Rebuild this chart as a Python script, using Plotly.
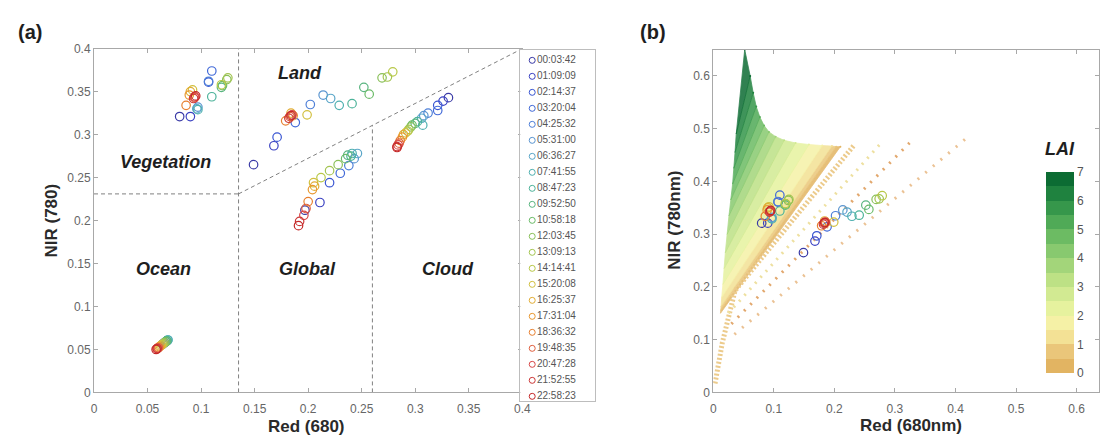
import plotly.graph_objects as go

# ---------------- acquisition times (legend of panel a) ----------------
times = ["00:03:42", "01:09:09", "02:14:37", "03:20:04", "04:25:32", "05:31:00",
         "06:36:27", "07:41:55", "08:47:23", "09:52:50", "10:58:18", "12:03:45",
         "13:09:13", "14:14:41", "15:20:08", "16:25:37", "17:31:04", "18:36:32",
         "19:48:35", "20:47:28", "21:52:55", "22:58:23"]

time_colors = ["#3a3aa6", "#3b42c2", "#3a56d2", "#4169d8", "#4f80d8", "#5a95d0",
               "#5aa6c8", "#4fb0b0", "#4db39a", "#5ab580", "#6bbb68", "#8ac05a",
               "#a3c450", "#b8c848", "#d2c040", "#e2ad35", "#e99830", "#e88030",
               "#e06040", "#d84848", "#cc3838", "#c42828"]

# ---------------- reflectance of each target class per time ----------------
ocean_red = [0.064, 0.065, 0.066, 0.067, 0.068, 0.068, 0.069, 0.069, 0.068, 0.068, 0.067,
             0.066, 0.065, 0.064, 0.063, 0.062, 0.061, 0.060, 0.060, 0.059, 0.059, 0.058]
ocean_nir = [0.056, 0.057, 0.058, 0.059, 0.060, 0.060, 0.061, 0.061, 0.060, 0.060, 0.059,
             0.058, 0.057, 0.056, 0.055, 0.054, 0.053, 0.052, 0.052, 0.051, 0.051, 0.050]

veg_red = [0.080, 0.090, 0.107, 0.110, 0.107, 0.097, 0.096, 0.097, 0.110, 0.119, 0.120,
           0.124, 0.125, 0.119, 0.092, 0.090, 0.089, 0.086, 0.094, 0.094, 0.093, 0.095]
veg_nir = [0.321, 0.321, 0.361, 0.374, 0.362, 0.332, 0.330, 0.329, 0.344, 0.355, 0.357,
           0.364, 0.366, 0.358, 0.352, 0.350, 0.346, 0.334, 0.343, 0.344, 0.342, 0.345]

land_red = [0.149, 0.168, 0.171, 0.188, 0.202, 0.214, 0.221, 0.229, 0.241, 0.252, 0.257,
            0.269, 0.274, 0.279, 0.199, 0.184, 0.186, 0.179, 0.183, 0.185, 0.182, 0.184]
land_nir = [0.265, 0.287, 0.297, 0.314, 0.335, 0.346, 0.342, 0.334, 0.336, 0.355, 0.347,
            0.366, 0.367, 0.373, 0.323, 0.325, 0.322, 0.316, 0.321, 0.323, 0.319, 0.322]

global_red = [0.197, 0.211, 0.220, 0.230, 0.238, 0.243, 0.246, 0.241, 0.240, 0.237, 0.235,
              0.228, 0.220, 0.212, 0.205, 0.206, 0.204, 0.200, 0.198, 0.196, 0.192, 0.191]
global_nir = [0.212, 0.221, 0.244, 0.255, 0.264, 0.272, 0.278, 0.278, 0.275, 0.276, 0.272,
              0.265, 0.258, 0.250, 0.244, 0.240, 0.236, 0.222, 0.214, 0.206, 0.199, 0.194]

cloud_red = [0.331, 0.326, 0.321, 0.321, 0.312, 0.308, 0.306, 0.307, 0.302, 0.300, 0.297,
             0.296, 0.294, 0.293, 0.291, 0.289, 0.288, 0.286, 0.285, 0.284, 0.283, 0.283]
cloud_nir = [0.343, 0.339, 0.334, 0.328, 0.325, 0.322, 0.319, 0.311, 0.315, 0.313, 0.311,
             0.309, 0.306, 0.304, 0.302, 0.300, 0.297, 0.293, 0.290, 0.288, 0.286, 0.285]

# ---------------- class boundaries in the red/NIR plane ----------------
veg_nir_min = 0.231      # vegetation lower NIR limit
red_split_1 = 0.135      # ocean/vegetation | global/land
red_split_2 = 0.26       # global | cloud
diag_end_red = 0.40      # land/global separation line end point
diag_end_nir = 0.40
class_labels = ["Vegetation", "Land", "Ocean", "Global", "Cloud"]
class_label_red = [0.067, 0.192, 0.065, 0.199, 0.331]
class_label_nir = [0.268, 0.372, 0.144, 0.144, 0.144]

# ---------------- simulated canopy space (panel b) ----------------
# iso-LAI lines: lower (dark soil) end and upper (bright soil) end
lai_levels = [0, 0.5, 1, 1.5, 2, 2.5, 3, 3.5, 4, 4.5, 5, 5.5, 6, 6.5, 7]
iso_lo_red = [0.012, 0.0125, 0.013, 0.014, 0.016, 0.018, 0.020, 0.023, 0.026, 0.029,
              0.032, 0.034, 0.036, 0.038, 0.041]
iso_lo_nir = [0.150, 0.156, 0.163, 0.180, 0.205, 0.235, 0.265, 0.300, 0.335, 0.365,
              0.395, 0.425, 0.455, 0.490, 0.530]
iso_hi_red = [0.210, 0.203, 0.196, 0.180, 0.158, 0.136, 0.117, 0.103, 0.092, 0.084,
              0.077, 0.071, 0.066, 0.061, 0.052]
iso_hi_nir = [0.466, 0.466, 0.467, 0.468, 0.470, 0.473, 0.478, 0.485, 0.494, 0.506,
              0.522, 0.542, 0.568, 0.600, 0.650]

lai_band_colors = ["#e2b462", "#eac67a", "#f3e195", "#f5f1a6", "#e6f29e", "#d2ea92",
                   "#bde185", "#a3d57a", "#88c96f", "#6cbb63", "#50aa57", "#36974b",
                   "#1f823f", "#0c6c33"]

# bare-soil (LAI = 0) lines
soil_a_red = [0.003, 0.015, 0.036, 0.232]
soil_a_nir = [0.017, 0.094, 0.193, 0.468]
soil_b_red = [0.025, 0.275]
soil_b_nir = [0.150, 0.470]
soil_c_red = [0.030, 0.330]
soil_c_nir = [0.130, 0.480]
soil_d_red = [0.035, 0.423]
soil_d_nir = [0.110, 0.487]

ticks_a_x = [0, 0.05, 0.1, 0.15, 0.2, 0.25, 0.3, 0.35, 0.4]
ticks_a_y = [0, 0.05, 0.1, 0.15, 0.2, 0.25, 0.3, 0.35, 0.4]
ticks_b = [0, 0.1, 0.2, 0.3, 0.4, 0.5, 0.6]

FONT = "Liberation Sans, Arial, sans-serif"
W, H = 1108, 443

fig = go.Figure()

# ---- panel (a): class boundaries ----
bstyle = dict(color="#808080", width=1, dash="4px,3px")
fig.add_trace(go.Scatter(x=[0, red_split_1], y=[veg_nir_min, veg_nir_min], mode="lines",
                         line=bstyle, xaxis="x", yaxis="y", hoverinfo="skip"))
fig.add_trace(go.Scatter(x=[red_split_1, red_split_1], y=[0, 0.4], mode="lines",
                         line=bstyle, xaxis="x", yaxis="y", hoverinfo="skip"))
fig.add_trace(go.Scatter(x=[red_split_1, diag_end_red], y=[veg_nir_min, diag_end_nir],
                         mode="lines", line=bstyle, xaxis="x", yaxis="y", hoverinfo="skip"))
split2_top = veg_nir_min + (red_split_2 - red_split_1) * (diag_end_nir - veg_nir_min) / (diag_end_red - red_split_1)
fig.add_trace(go.Scatter(x=[red_split_2, red_split_2], y=[0, split2_top], mode="lines",
                         line=bstyle, xaxis="x", yaxis="y", hoverinfo="skip"))

# ---- panel (a): observations ----
for i, t in enumerate(times):
    fig.add_trace(go.Scatter(
        x=[ocean_red[i], veg_red[i], land_red[i], global_red[i], cloud_red[i]],
        y=[ocean_nir[i], veg_nir[i], land_nir[i], global_nir[i], cloud_nir[i]],
        mode="markers", name=t, xaxis="x", yaxis="y",
        marker=dict(symbol="circle-open", size=8.5, color=time_colors[i],
                    line=dict(width=1.2, color=time_colors[i]))))

# ---- panel (a): time legend ----
fig.add_trace(go.Scatter(
    x=[0.16] * len(times), y=list(range(len(times))), mode="markers+text",
    text=times, textposition="middle right",
    textfont=dict(family=FONT, size=10, color="#555555"),
    marker=dict(symbol="circle-open", size=6, color=time_colors,
                line=dict(width=1, color=time_colors)),
    xaxis="x3", yaxis="y3", hoverinfo="skip"))

# ---- panel (b): simulated LAI field ----
for k in range(len(lai_levels) - 1):
    c = lai_band_colors[k]
    fig.add_trace(go.Scatter(
        x=[iso_lo_red[k], iso_hi_red[k], iso_hi_red[k + 1], iso_lo_red[k + 1], iso_lo_red[k]],
        y=[iso_lo_nir[k], iso_hi_nir[k], iso_hi_nir[k + 1], iso_lo_nir[k + 1], iso_lo_nir[k]],
        mode="lines", fill="toself", fillcolor=c, line=dict(color=c, width=0.8),
        opacity=0.85, xaxis="x2", yaxis="y2", hoverinfo="skip"))

for sx, sy, col, wd, dash in [
        (soil_a_red, soil_a_nir, "#eccb8c", 5, "2px,2px"),
        (soil_b_red, soil_b_nir, "#eee0a0", 3, "2px,6px"),
        (soil_c_red, soil_c_nir, "#e2a86e", 3, "2px,7px"),
        (soil_d_red, soil_d_nir, "#ebc294", 3, "2px,8px")]:
    fig.add_trace(go.Scatter(x=sx, y=sy, mode="lines", line=dict(color=col, width=wd, dash=dash),
                             xaxis="x2", yaxis="y2", hoverinfo="skip"))

# colour scale of LAI, carried by the upper ends of the iso-LAI lines
n_band = len(lai_band_colors)
cscale = []
for k, c in enumerate(lai_band_colors):
    cscale.append([k / n_band, c])
    cscale.append([(k + 1) / n_band, c])
fig.add_trace(go.Scatter(
    x=iso_hi_red, y=iso_hi_nir, mode="markers", xaxis="x2", yaxis="y2", hoverinfo="skip",
    marker=dict(size=2, color=lai_levels, colorscale=cscale, cmin=0, cmax=7, showscale=True,
                colorbar=dict(x=1054 / W, xanchor="left", xpad=0,
                              y=(H - 378) / H, yanchor="bottom", ypad=0,
                              len=208 / H, lenmode="fraction",
                              thickness=28, thicknessmode="pixels",
                              tickvals=[0, 1, 2, 3, 4, 5, 6, 7], ticks="",
                              tickfont=dict(family=FONT, size=12, color="#555555"),
                              outlinewidth=0))))

# observations over the simulated field
for i, t in enumerate(times):
    fig.add_trace(go.Scatter(
        x=[veg_red[i], land_red[i]], y=[veg_nir[i], land_nir[i]],
        mode="markers", xaxis="x2", yaxis="y2",
        marker=dict(symbol="circle-open", size=8.5, color=time_colors[i],
                    line=dict(width=1.2, color=time_colors[i]))))

# ---- axes ----
axis_common = dict(showline=True, linecolor="#a8a8a8", linewidth=1, mirror="ticks",
                   ticks="inside", ticklen=4, tickcolor="#a8a8a8", showgrid=False,
                   zeroline=False, tickfont=dict(family=FONT, size=12, color="#666666"))
y_bottom = (H - 398) / H
fig.update_layout(
    width=W, height=H, margin=dict(l=0, r=0, t=0, b=0),
    paper_bgcolor="white", plot_bgcolor="white", showlegend=False,
    font=dict(family=FONT),
    xaxis=dict(domain=[92 / W, 525 / W], range=[0, 0.4], anchor="y", ticklabelstandoff=5,
               tickvals=ticks_a_x, ticktext=[f"{v:g}" for v in ticks_a_x], **axis_common),
    yaxis=dict(domain=[y_bottom, (H - 43) / H], range=[0, 0.4], anchor="x",
               tickvals=ticks_a_y, ticktext=[f"{v:g}" for v in ticks_a_y], **axis_common),
    xaxis2=dict(domain=[718 / W, 1.0], range=[0, 0.637], anchor="y2", ticklabelstandoff=5,
                tickvals=ticks_b, ticktext=[f"{v:g}" for v in ticks_b], **axis_common),
    yaxis2=dict(domain=[y_bottom, (H - 44) / H], range=[0, 0.65], anchor="x2",
                tickvals=ticks_b, ticktext=[f"{v:g}" for v in ticks_b], **axis_common),
    xaxis3=dict(domain=[523 / W, 598 / W], range=[0, 1], anchor="y3", showline=True,
                mirror=True, linecolor="#bdbdbd", showticklabels=False, ticks="",
                showgrid=False, zeroline=False),
    yaxis3=dict(domain=[(H - 407) / H, (H - 44) / H], range=[21.3, -0.67], anchor="x3",
                showline=True, mirror=True, linecolor="#bdbdbd", showticklabels=False,
                ticks="", showgrid=False, zeroline=False),
)

ann = []
for lab, rx, ny in zip(class_labels, class_label_red, class_label_nir):
    ann.append(dict(x=rx, y=ny, xref="x", yref="y", text=f"<b><i>{lab}</i></b>",
                    xanchor="center", yanchor="middle", showarrow=False,
                    font=dict(family=FONT, size=18, color="#1e1e1e")))


def pix(px, py):
    return dict(x=px / W, y=(H - py) / H, xref="paper", yref="paper",
                xanchor="center", yanchor="middle", showarrow=False)


ann.append(dict(**pix(27, 26), text="<b>(a)</b>", font=dict(family=FONT, size=20, color="#1e1e1e")))
ann.append(dict(**pix(657, 26), text="<b>(b)</b>", font=dict(family=FONT, size=20, color="#1e1e1e")))
ann.append(dict(**pix(307, 433), text="<b>Red (680)</b>", font=dict(family=FONT, size=17, color="#2a2a2a")))
ann.append(dict(**pix(49, 220), text="<b>NIR (780)</b>", textangle=-90,
                font=dict(family=FONT, size=17, color="#2a2a2a")))
ann.append(dict(**pix(918, 432), text="<b>Red (680nm)</b>", font=dict(family=FONT, size=17, color="#2a2a2a")))
ann.append(dict(**pix(678, 220), text="<b>NIR (780nm)</b>", textangle=-90,
                font=dict(family=FONT, size=17, color="#2a2a2a")))
ann.append(dict(**pix(1069, 147), text="<b><i>LAI</i></b>", font=dict(family=FONT, size=18, color="#1e1e1e")))
fig.update_layout(annotations=ann)

fig.write_html("out.html")
